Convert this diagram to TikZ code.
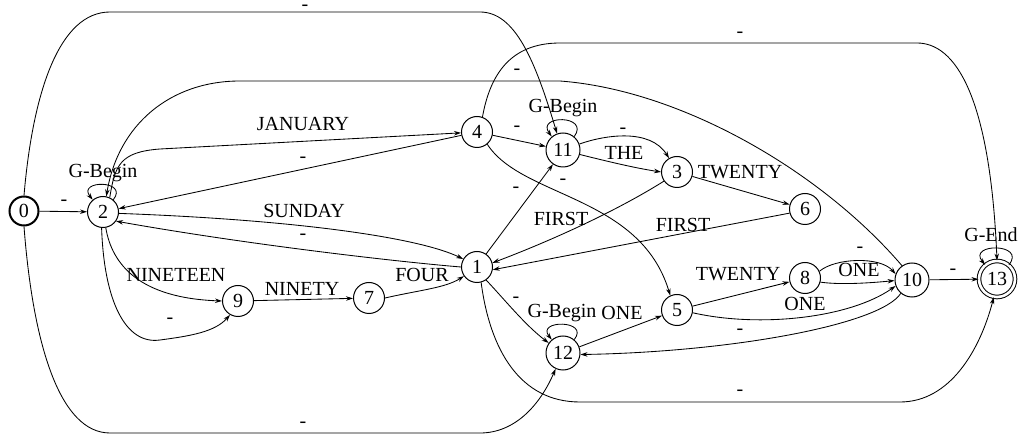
\documentclass[tikz,border=0pt]{standalone}
\usepackage{fontspec}
\setmainfont{Liberation Serif}
\usetikzlibrary{arrows.meta}
\begin{document}
\begin{tikzpicture}[x=1pt,y=-1pt,
  st/.style={circle,draw,line width=1pt,minimum size=31pt,inner sep=0pt,font=\fontsize{20}{24}\selectfont},
  wst/.style={st,minimum size=34pt},
  lab/.style={inner sep=0pt,font=\fontsize{20}{24}\selectfont},
  edge/.style={line width=0.85pt,-{Stealth[length=7pt,width=4.5pt]}},
  plain/.style={line width=0.85pt}
]
\useasboundingbox (0,0) rectangle (1020,435);
% states
\node[st,line width=2pt,minimum size=29pt] (n0) at (24,211) {0};
\node[st] (n2) at (103,212) {2};
\node[st] (n4) at (477,132) {4};
\node[wst] (n11) at (563,150) {11};
\node[st] (n3) at (677,172) {3};
\node[st] (n6) at (805,209) {6};
\node[st] (n1) at (477,267) {1};
\node[st] (n9) at (238,301) {9};
\node[st] (n7) at (369,298) {7};
\node[st] (n5) at (677,310) {5};
\node[st] (n8) at (805,278) {8};
\node[wst] (n10) at (912,280) {10};
\node[wst] (n12) at (563,353) {12};
\node[st,double,double distance=2.6pt,minimum size=36pt] (n13) at (997,279) {13};

% edges around 0 and 2
\draw[edge] (n0) -- (n2);
\draw[edge] (n2.50) .. controls +(16,-20) and +(-16,-20) .. (n2.130);
\draw[edge] (n2.65) .. controls (115,165) and (120,152) .. (160,149) -- (n4);
\draw[edge] (n4) -- (n2);
\draw[edge] (n2.-5) .. controls (300,220) and (420,238) .. (n1.150);
\draw[edge] (n1.west) .. controls (400,262) and (250,245) .. (n2.-35);
\draw[edge] (n2.-80) .. controls (112,265) and (140,298) .. (n9.west);
\draw[edge] (n2.-95) .. controls (104,300) and (125,345) .. (160,340) .. controls (190,336) and (215,332) .. (n9.-120);
\draw[edge] (n9) -- (n7);
\draw[edge] (n7.east) .. controls (420,290) and (445,288) .. (n1.-145);

% big arcs
\draw[edge] (n0.north) .. controls (33,90) and (60,12) .. (110,12) -- (480,12) .. controls (515,12) and (535,60) .. (n11.110);
\draw[edge] (n0.south) .. controls (33,345) and (60,433) .. (110,433) -- (480,433) .. controls (515,433) and (540,405) .. (n12.-115);
\draw[edge] (n4.70) .. controls (490,75) and (510,43) .. (560,43) -- (917,43) .. controls (955,43) and (990,95) .. (n13.north);
\draw[edge] (n10.125) .. controls (820,170) and (680,90) .. (560,81) -- (240,81) .. controls (170,81) and (118,125) .. (n2.78);
\draw[edge] (n1.-75) .. controls (490,350) and (520,402) .. (580,402) -- (900,402) .. controls (950,402) and (980,350) .. (n13.-100);

% middle
\draw[edge] (n4) -- (n11);
\draw[edge] (n4.-50) .. controls (522,198) and (640,195) .. (n5.115);
\draw[edge] (n1.55) -- (n11.235);
\draw[edge] (n1.-55) .. controls (505,300) and (525,325) .. (n12.145);
\draw[edge] (n11.50) .. controls +(16,-22) and +(-16,-22) .. (n11.130);
\draw[edge] (n11.20) .. controls (605,135) and (650,128) .. (n3.120);
\draw[edge] (n11.-15) .. controls (610,162) and (635,168) .. (n3.180);
\draw[edge] (n3) -- (n6);
\draw[edge] (n3.-145) .. controls (610,215) and (540,245) .. (n1.15);
\draw[edge] (n6.-165) -- (n1.-10);
\draw[edge] (n12.50) .. controls +(16,-20) and +(-16,-20) .. (n12.130);
\draw[edge] (n12) -- (n5);
\draw[edge] (n5) -- (n8);
\draw[edge] (n5.-10) .. controls (760,328) and (850,318) .. (n10.-160);
\draw[edge] (n8.25) .. controls (835,258) and (880,256) .. (n10.160);
\draw[edge] (n8.-15) .. controls (840,285) and (870,283) .. (n10.182);
\draw[edge] (n10.-130) .. controls (880,325) and (730,352) .. (n12.-5);
\draw[edge] (n10) -- (n13);
\draw[edge] (n13.50) .. controls +(18,-22) and +(-18,-22) .. (n13.130);

% labels
\node[lab] (a1) at (64,203) {-};
\node[lab] (a2) at (103,173) {G-Begin};
\node[lab] (a3) at (303,124) {JANUARY};
\node[lab] (a4) at (303,160) {-};
\node[lab] (a5) at (304,211) {SUNDAY};
\node[lab] (a6) at (303,237) {-};
\node[lab] (a7) at (176,275) {NINETEEN};
\node[lab] (a8) at (170,321) {-};
\node[lab] (a9) at (302,289) {NINETY};
\node[lab] (a10) at (422,275) {FOUR};
\node[lab] (a11) at (305,8) {-};
\node[lab] (a12) at (303,425) {-};
\node[lab] (a13) at (740,35) {-};
\node[lab] (a14) at (517,72) {-};
\node[lab] (a15) at (517,129) {-};
\node[lab] (a16) at (563,108) {G-Begin};
\node[lab] (a17) at (623,131) {-};
\node[lab] (a18) at (624,153) {THE};
\node[lab] (a19) at (740,172) {TWENTY};
\node[lab] (a20) at (561,219) {FIRST};
\node[lab] (a21) at (683,225) {FIRST};
\node[lab] (a22) at (516,190) {-};
\node[lab] (a23) at (563,182) {-};
\node[lab] (a24) at (516,300) {-};
\node[lab] (a25) at (562,313) {G-Begin};
\node[lab] (a26) at (622,313) {ONE};
\node[lab] (a27) at (738,274) {TWENTY};
\node[lab] (a28) at (860,250) {-};
\node[lab] (a29) at (859,270) {ONE};
\node[lab] (a30) at (805,304) {ONE};
\node[lab] (a31) at (740,332) {-};
\node[lab] (a32) at (953,272) {-};
\node[lab] (a33) at (991,235) {G-End};
\node[lab] (a34) at (740,393) {-};
\end{tikzpicture}
\end{document}
